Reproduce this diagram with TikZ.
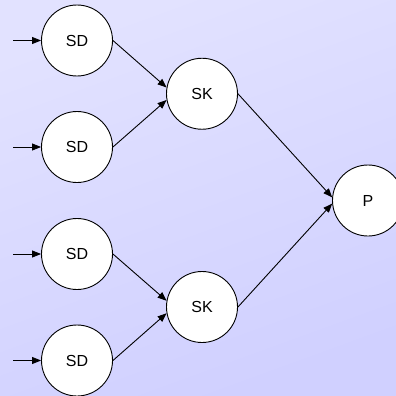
\documentclass[tikz,border=0pt]{standalone}
\usepackage{fontspec}
\setmainfont{Liberation Sans}
\usetikzlibrary{arrows.meta,positioning}
\definecolor{BgLight}{RGB}{226,226,255}
\definecolor{BgDark}{RGB}{208,208,255}
\tikzset{
	unit/.style={
		circle,draw,fill=white,minimum size=71pt,inner sep=0pt,
		font=\fontsize{16}{18}\selectfont},
	feed/.style={-{Triangle[length=9pt,width=7pt]}}
}

\begin{document}
\begin{tikzpicture}[x=1pt,y=-1pt,line width=0.9pt]
	\clip (0,0) rectangle (396,396);
	\shade[top color=BgLight,bottom color=BgDark,shading angle=20] (0,0) rectangle (396,396);
	% first column
	\foreach \i/\y in {1/40.5,2/147,3/254,4/360.5}{
		\node[unit] (sd\i) at (77,\y) {SD};
		\coordinate (in\i) at (13,\y);
		\draw[feed] (in\i) -- (sd\i);
	}
	% second column
	\node[unit] (sk1) at (202,93.75) {SK};
	\node[unit] (sk2) at (202,307) {SK};
	\node[unit] (p) at (368,200.5) {P};
	\draw[feed] (sd1.east) -- (sk1.170);
	\draw[feed] (sd2.east) -- (sk1.190);
	\draw[feed] (sd3.east) -- (sk2.170);
	\draw[feed] (sd4.east) -- (sk2.190);
	\draw[feed] (sk1.east) -- (p.175);
	\draw[feed] (sk2.east) -- (p.185);
\end{tikzpicture}
\end{document}
